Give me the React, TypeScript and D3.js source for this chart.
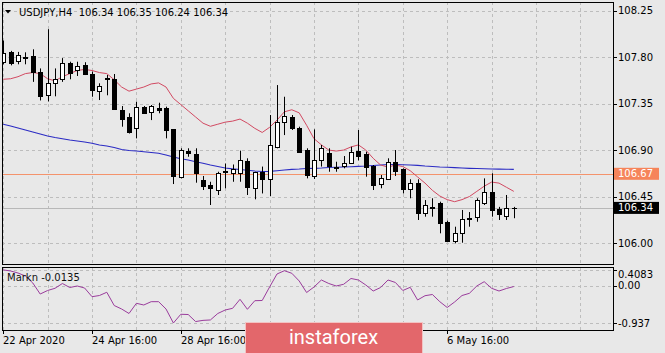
import * as d3 from 'd3';

// USDJPY H4 candles (bar index 0 = 22 Apr 2020 16:00)
const opens = [
  107.75, 107.846, 107.765, 107.8, 107.81, 107.66, 107.43, 107.55, 107.59, 107.74,
  107.675, 107.72, 107.64, 107.474, 107.6, 107.59, 107.288, 107.223, 107.11, 107.32,
  107.268, 107.31, 107.304, 107.1, 106.636, 106.89, 106.86, 106.61, 106.56, 106.513,
  106.7, 106.675, 106.68, 106.79, 106.53, 106.69, 106.617, 106.932, 107.174, 107.223,
  107.11, 106.9, 106.652, 106.803, 106.874, 106.735, 106.745, 106.777, 106.894, 106.862,
  106.745, 106.568, 106.617, 106.787, 106.713, 106.52, 106.578, 106.29, 106.34, 106.384,
  106.206, 106.022, 106.094, 106.235, 106.255, 106.39, 106.497, 106.326, 106.26, 106.34,
];
const highs = [
  107.96, 107.86, 107.85, 107.846, 107.875, 107.69, 108.07, 107.69, 107.79, 107.755,
  107.755, 107.75, 107.66, 107.546, 107.626, 107.636, 107.326, 107.256, 107.368, 107.326,
  107.336, 107.358, 107.32, 107.1, 106.917, 106.917, 106.917, 106.649, 106.593, 106.69,
  106.77, 106.76, 106.894, 106.82, 106.69, 106.74, 107.239, 107.529, 107.416, 107.239,
  107.126, 106.917, 107.1, 106.949, 106.917, 106.787, 106.842, 106.932, 107.094, 106.884,
  106.755, 106.658, 106.82, 106.9, 106.723, 106.617, 106.617, 106.416, 106.433, 106.4,
  106.216, 106.158, 106.32, 106.3, 106.433, 106.626, 106.675, 106.35, 106.465, 106.35,
];
const lows = [
  107.73, 107.72, 107.73, 107.73, 107.56, 107.38, 107.37, 107.42, 107.56, 107.585,
  107.617, 107.626, 107.416, 107.384, 107.43, 107.294, 107.126, 107.06, 107.013, 107.256,
  107.19, 107.256, 107.013, 106.571, 106.626, 106.835, 106.584, 106.513, 106.368, 106.465,
  106.53, 106.593, 106.593, 106.465, 106.423, 106.48, 106.455, 106.917, 107.045, 107.094,
  106.874, 106.626, 106.62, 106.74, 106.69, 106.69, 106.723, 106.77, 106.8, 106.642,
  106.513, 106.53, 106.61, 106.649, 106.48, 106.433, 106.223, 106.255, 106.255, 106.094,
  106.013, 105.997, 106.003, 106.158, 106.206, 106.368, 106.255, 106.223, 106.223, 106.24,
];
const closes = [
  107.84, 107.74, 107.82, 107.795, 107.66, 107.42, 107.546, 107.59, 107.745, 107.65,
  107.716, 107.64, 107.48, 107.52, 107.59, 107.3, 107.197, 107.077, 107.32, 107.26,
  107.326, 107.288, 107.094, 106.649, 106.9, 106.875, 106.68, 106.55, 106.53, 106.675,
  106.685, 106.713, 106.8, 106.545, 106.69, 106.617, 106.949, 107.174, 107.229, 107.11,
  106.884, 106.658, 106.803, 106.917, 106.745, 106.73, 106.777, 106.884, 106.842, 106.733,
  106.561, 106.626, 106.787, 106.7, 106.52, 106.584, 106.29, 106.368, 106.35, 106.19,
  106.022, 106.094, 106.229, 106.24, 106.416, 106.497, 106.32, 106.278, 106.336, 106.34,
];

// short moving average (red)
const fastMa = [
  107.585, 107.59, 107.61, 107.64, 107.65, 107.64, 107.59, 107.57, 107.61, 107.64,
  107.67, 107.68, 107.67, 107.65, 107.64, 107.58, 107.51, 107.47, 107.49, 107.51,
  107.54, 107.55, 107.51, 107.4, 107.34, 107.28, 107.22, 107.16, 107.13, 107.15,
  107.17, 107.18, 107.2, 107.16, 107.11, 107.07, 107.12, 107.19, 107.27, 107.29,
  107.26, 107.14, 107.01, 106.95, 106.9, 106.89, 106.9, 106.93, 106.95, 106.9,
  106.82, 106.755, 106.735, 106.755, 106.74, 106.7, 106.64, 106.58, 106.51, 106.455,
  106.42, 106.4, 106.42, 106.45, 106.5, 106.55, 106.59, 106.58, 106.54, 106.5,
];

// long moving average (blue)
const slowMa = [
  107.149, 107.133, 107.113, 107.094, 107.075, 107.055, 107.036, 107.021, 107.009, 106.997,
  106.987, 106.978, 106.965, 106.949, 106.939, 106.924, 106.905, 106.895, 106.891, 106.884,
  106.876, 106.869, 106.852, 106.833, 106.816, 106.803, 106.786, 106.772, 106.755, 106.741,
  106.726, 106.718, 106.712, 106.704, 106.697, 106.692, 106.694, 106.7, 106.707, 106.713,
  106.716, 106.721, 106.723, 106.726, 106.731, 106.734, 106.736, 106.739, 106.742, 106.745,
  106.75, 106.755, 106.76, 106.76, 106.757, 106.755, 106.752, 106.745, 106.741, 106.736,
  106.733, 106.73, 106.726, 106.723, 106.721, 106.719, 106.716, 106.715, 106.714, 106.713,
];

// lower window oscillator
const markn = [
  0.408, 0.38, 0.329, 0.253, 0.076, -0.203, -0.114, -0.058, 0.063, -0.038,
  0.0, -0.051, -0.271, -0.241, -0.159, -0.494, -0.582, -0.696, -0.438, -0.481,
  -0.397, -0.397, -0.582, -0.937, -0.716, -0.722, -0.9, -0.87, -0.86, -0.696,
  -0.608, -0.565, -0.337, -0.59, -0.372, -0.367, -0.025, 0.304, 0.387, 0.322,
  0.127, -0.165, -0.025, 0.152, 0.063, 0.0, 0.043, 0.19, 0.152, 0.025,
  -0.127, -0.038, 0.152, 0.089, -0.114, -0.033, -0.354, -0.246, -0.215, -0.397,
  -0.544, -0.405, -0.241, -0.185, 0.0, 0.109, -0.058, -0.127, -0.063, -0.0135,
];

const priceTicks = [108.25, 107.8, 107.35, 106.9, 106.45, 106.0];
const indTicks = [0.4083, 0, -0.937];
const indTickLabels = ['0.4083', '0.00', '-0.937'];
// the labels at bars 36 and 48 sit under the watermark, only their ticks show
const timeTickIdx = [0, 12, 24, 36, 48, 60];
const timeLabelIdx = [0, 12, 24, 60];
const timeTickLabels = ['22 Apr 2020', '24 Apr 16:00', '28 Apr 16:00', '6 May 16:00'];
const askLevel = 106.67;
const lastPrice = 106.34;

const W = 665;
const H = 353;
const L = 2;
const R = 613;
const mainTop = 2;
const mainBottom = 264;
const indTop = 267;
const indBottom = 330;
const FONT = '"DejaVu Sans", Verdana, sans-serif';

export default function App() {
  const x = d3.scaleLinear().domain([0, 69]).range([3.2, 3.2 + 7.4 * 69]);
  const y = d3.scaleLinear().domain([105.797, 108.333]).range([mainBottom, mainTop]);
  const yi = d3.scaleLinear().domain([-1.114, 0.481]).range([indBottom, indTop]);
  const px = (i: number) => Math.round(x(i)) + 0.5;

  const priceLine = d3
    .line<number>()
    .x((_, i) => x(i))
    .y((d) => y(d));
  const indLine = d3
    .line<number>()
    .x((_, i) => x(i))
    .y((d) => yi(d));

  const gridX = d3.range(0, 84, 6).map((i) => px(i)).filter((v) => v < R);
  const crisp = (v: number) => Math.round(v) + 0.5;

  return (
    <svg
      width={W}
      height={H}
      style={{ position: 'absolute', left: 0, top: 0, fontFamily: FONT }}
    >
      <defs>
        <clipPath id="mainClip">
          <rect x={L + 1} y={mainTop + 1} width={R - L - 1} height={mainBottom - mainTop - 1} />
        </clipPath>
        <clipPath id="indClip">
          <rect x={L + 1} y={indTop + 1} width={R - L - 1} height={indBottom - indTop - 1} />
        </clipPath>
      </defs>
      <rect width={W} height={H} fill="#e8e8e8" />

      {/* grid */}
      <g stroke="#bdbdbd" strokeDasharray="3,3" strokeWidth={1}>
        {priceTicks.map((p) => (
          <line key={p} x1={L} x2={R} y1={crisp(y(p))} y2={crisp(y(p))} />
        ))}
        {indTicks.map((v) => (
          <line key={v} x1={L} x2={R} y1={crisp(yi(v))} y2={crisp(yi(v))} />
        ))}
        {gridX.map((gx) => (
          <g key={gx}>
            <line x1={gx} x2={gx} y1={mainTop} y2={mainBottom} />
            <line x1={gx} x2={gx} y1={indTop} y2={indBottom} />
          </g>
        ))}
      </g>

      <g clipPath="url(#mainClip)">
        {/* bid line and level */}
        <line x1={L} x2={R} y1={crisp(y(lastPrice))} y2={crisp(y(lastPrice))} stroke="#b8b8b8" />
        <line x1={L} x2={R} y1={crisp(y(askLevel))} y2={crisp(y(askLevel))} stroke="#f4936c" strokeWidth={1.2} />

        <path d={priceLine(slowMa) ?? ''} fill="none" stroke="#2b2bc4" strokeWidth={1.1} />
        <path d={priceLine(fastMa) ?? ''} fill="none" stroke="#d24a62" strokeWidth={1} />

        {opens.map((o, i) => {
          const c = closes[i];
          const cx = px(i);
          const top = Math.round(y(Math.max(o, c)));
          const bot = Math.round(y(Math.min(o, c)));
          const up = c > o;
          return (
            <g key={i}>
              <line x1={cx} x2={cx} y1={y(highs[i])} y2={y(lows[i])} stroke="#000" />
              {bot - top < 1 ? (
                <line x1={cx - 2.5} x2={cx + 2.5} y1={top + 0.5} y2={top + 0.5} stroke="#000" />
              ) : up ? (
                <rect x={cx - 2} y={top + 0.5} width={4} height={bot - top} fill="#fff" stroke="#000" />
              ) : (
                <rect x={cx - 2.5} y={top} width={5} height={bot - top + 1} fill="#000" />
              )}
            </g>
          );
        })}
      </g>

      <g clipPath="url(#indClip)">
        <path d={indLine(markn) ?? ''} fill="none" stroke="#9a3c9c" strokeWidth={1} />
      </g>

      {/* frames */}
      <rect x={L + 0.5} y={mainTop + 0.5} width={R - L} height={mainBottom - mainTop} fill="none" stroke="#000" />
      <rect x={L + 0.5} y={indTop + 0.5} width={R - L} height={indBottom - indTop} fill="none" stroke="#000" />

      {/* header */}
      <path d="M5,10 L11,10 L8,13.5 Z" fill="#000" />
      <text x={19} y={16} fontSize={10} fill="#000" style={{ whiteSpace: 'pre' }}>
        {'USDJPY,H4  106.34 106.35 106.24 106.34'}
      </text>
      <text x={7} y={281} fontSize={10} fill="#111">
        Markn -0.0135
      </text>

      {/* price axis */}
      {priceTicks.map((p) => (
        <g key={p}>
          <line x1={R} x2={R + 4} y1={crisp(y(p))} y2={crisp(y(p))} stroke="#000" />
          <text x={618} y={y(p) + 3.5} fontSize={10} fill="#000">
            {p.toFixed(2)}
          </text>
        </g>
      ))}
      <rect x={614} y={y(askLevel) - 6} width={45} height={12} fill="#f6845a" />
      <text x={618} y={y(askLevel) + 3.5} fontSize={10} fill="#fff">
        {askLevel.toFixed(2)}
      </text>
      <rect x={614} y={y(lastPrice) - 6} width={45} height={12} fill="#000" />
      <text x={618} y={y(lastPrice) + 3.5} fontSize={10} fill="#fff">
        {lastPrice.toFixed(2)}
      </text>

      {/* indicator axis */}
      {indTicks.map((v, k) => (
        <g key={v}>
          <line x1={R} x2={R + 4} y1={crisp(yi(v))} y2={crisp(yi(v))} stroke="#000" />
          <text x={618} y={k === 0 ? yi(v) + 8.5 : yi(v) + 3.5} fontSize={10} fill="#000">
            {indTickLabels[k]}
          </text>
        </g>
      ))}

      {/* time axis */}
      {timeTickIdx.map((i) => (
        <line key={i} x1={px(i)} x2={px(i)} y1={indBottom} y2={indBottom + 4} stroke="#000" />
      ))}
      {timeLabelIdx.map((i, k) => (
        <text key={i} x={px(i) - 0.5} y={344} fontSize={10} fill="#000">
          {timeTickLabels[k]}
        </text>
      ))}

      {/* watermark */}
      <rect x={245.5} y={322.5} width={177} height={40} fill="#e3676b" stroke="#f3c3c3" />
      <text x={333.5} y={344} textAnchor="middle" fontSize={20} fill="#fff" fontFamily="Roboto, sans-serif">
        instaforex
      </text>
    </svg>
  );
}
